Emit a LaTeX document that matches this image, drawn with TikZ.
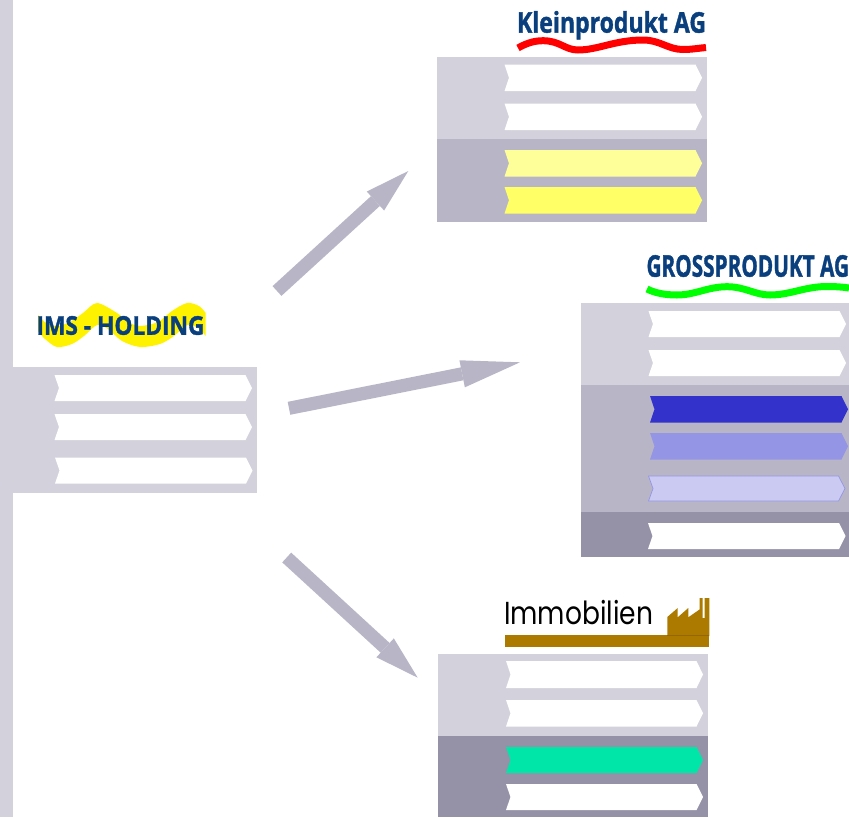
\documentclass[tikz,border=0pt]{standalone}
\usepackage{graphicx}
\usepackage{fontspec}
\setmainfont{Liberation Sans}
\newfontfamily\immofont{Poppins}
\newfontfamily\logofont[BoldFeatures={FakeBold=1.5}]{Open Sans}
\usetikzlibrary{arrows.meta}
\definecolor{bandlight}{HTML}{D3D2DC}
\definecolor{bandmid}{HTML}{B8B6C6}
\definecolor{banddark}{HTML}{9592A8}
\definecolor{logoblue}{HTML}{0A3F7E}
\definecolor{chevpale}{HTML}{FFFF99}
\definecolor{chevyellow}{HTML}{FFFF66}
\definecolor{chevblue}{HTML}{3333CC}
\definecolor{chevperi}{HTML}{9595E5}
\definecolor{chevlav}{HTML}{CACAF2}
\definecolor{chevgreen}{HTML}{00E6A8}
\definecolor{brownbar}{HTML}{AD7A00}
\newcommand{\chev}[5]{% x0 x1 y0 y1 style
  \path[#5] (#1,#3) -- ({#2-6.5},#3) -- (#2,{(#3+#4)/2}) -- ({#2-6.5},#4) -- (#1,#4) -- ({#1+4.5},{(#3+#4)/2}) -- cycle;}
\newcommand{\logotext}[6]{% name x y w h text
  \node[logolabel] (#1) at (#2,#3) {\resizebox*{#4pt}{#5pt}{\logofont\bfseries #6}};}
\tikzset{
  x=1pt,y=-1pt,
  white chev/.style={fill=white},
  bigarrow/.style 2 args={draw=bandmid,-{Triangle[length=#1,width=#2,line width=0pt,fill=bandmid]},line width=13.2pt},
  logolabel/.style={anchor=north west,inner sep=0pt,outer sep=0pt,text=logoblue},
}
\begin{document}
\begin{tikzpicture}
\useasboundingbox (0,0) rectangle (849,817);
\clip (0,0) rectangle (849,817);
% left rail
\fill[bandlight] (0,0) rectangle (13,817);
% IMS holding
\fill[yellow]
  plot[smooth] coordinates {(38,315) (46,323) (57,326) (70,322) (83,313) (97,303) (117,313) (128,322) (140,326) (158,322) (172,311) (187,303) (199,306) (205.7,313)}
  -- (205.7,336)
  -- plot[smooth] coordinates {(205.7,336) (198,328) (187,325) (174,336) (160,344) (140,347) (122,341) (108,329) (97,325) (84,336) (72,344) (57,347) (45,339) (38,331)}
  -- cycle;
\logotext{imslogo}{36.5}{316}{168}{19}{IMS - HOLDING}
\fill[bandlight] (13,367) rectangle (257,493);
\chev{54.5}{252}{375}{401}{white chev}
\chev{54.5}{252}{414}{440}{white chev}
\chev{55}{252.5}{457.5}{483.5}{white chev}
% Kleinprodukt
\logotext{kleinlogo}{517}{11}{189}{28.5}{Kleinprodukt AG}
\draw[red,line width=7pt] (518,48) .. controls (525,44) and (533,40.7) .. (543,40.7) .. controls (560,40.7) and (565,50) .. (578,50) .. controls (598,50) and (615,40) .. (643,40) .. controls (660,40) and (668,49.5) .. (683,49.5) .. controls (692,49.5) and (700,48) .. (706,47.5);
\fill[bandlight] (437,57) rectangle (707,139);
\fill[bandmid] (437,139) rectangle (707,222);
\chev{504.5}{702}{64.5}{91}{white chev}
\chev{504.5}{702}{103.5}{130}{white chev}
\chev{504.5}{702}{150}{176.5}{fill=chevpale}
\chev{504.5}{702}{187}{213.5}{fill=chevyellow}
% Grossprodukt
\logotext{grosslogo}{646.5}{255}{202.5}{22}{GROSSPRODUKT AG}
\draw[green,line width=7pt] (647,289) .. controls (655,293) and (665,295) .. (677,295) .. controls (695,295) and (708,286.7) .. (727,286.7) .. controls (745,286.7) and (755,295) .. (770,295) .. controls (790,295) and (805,286.5) .. (827,286.5) .. controls (835,286.5) and (843,287) .. (849,288);
\fill[bandlight] (581,303) rectangle (849,385);
\fill[bandmid] (581,385) rectangle (849,512);
\fill[banddark] (581,512) rectangle (849,557);
\chev{648.5}{846}{311}{337}{white chev}
\chev{648.5}{846}{350}{376}{white chev}
\chev{650}{848}{396}{422.5}{fill=chevblue}
\chev{650}{848}{433}{459.5}{fill=chevperi}
\chev{648.5}{845}{476}{501}{fill=chevlav,draw=chevperi,line width=0.7pt}
\chev{648}{845.5}{523}{549}{white chev}
% Immobilien
\node[logolabel,text=black] (immologo) at (504,600) {\resizebox*{149pt}{24.5pt}{\immofont Immobilien}};
\fill[brownbar] (504.5,635) rectangle (709.3,646.7);
\fill[brownbar] (667.3,636) -- (667.3,617) -- (677.7,608) -- (677.7,617.3) -- (688.3,608) -- (688.3,617.3) -- (699.5,609.5) -- (699.5,598) -- (702.7,598) -- (702.7,618) -- (704.7,618) -- (704.7,598) -- (709.3,598) -- (709.3,636) -- cycle;
\draw[brownbar!85!black,line width=0.6pt] (667.3,635) -- (709.3,635);
\fill[bandlight] (438,654) rectangle (708,736);
\fill[banddark] (438,736) rectangle (708,817);
\chev{506}{703}{661}{688}{white chev}
\chev{506}{703}{700}{726.5}{white chev}
\chev{506}{703}{747}{773}{fill=chevgreen}
\chev{506}{703}{784}{810}{white chev}
% arrows
\coordinate (a1s) at (277,291);
\coordinate (a1e) at (408.3,171);
\coordinate (a2s) at (289,408.3);
\coordinate (a2e) at (520,362.3);
\coordinate (a3s) at (286.7,557.5);
\coordinate (a3e) at (417.7,677.7);
\draw[bigarrow={44.5pt}{25.7pt}] (a1s) -- (a1e);
\draw[bigarrow={59pt}{27.6pt}] (a2s) -- (a2e);
\draw[bigarrow={44.2pt}{25.7pt}] (a3s) -- (a3e);
\end{tikzpicture}
\end{document}
